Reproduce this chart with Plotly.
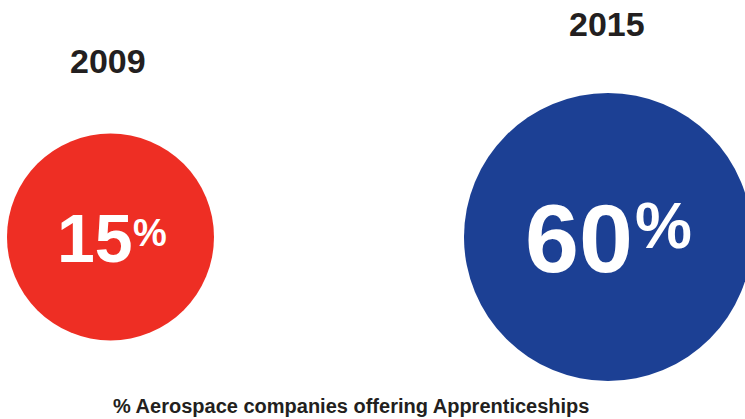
import plotly.graph_objects as go

# ---- data ----
years = ["2009", "2015"]
percent_values = [15, 60]
caption = "% Aerospace companies offering Apprenticeships"

# ---- styles ----
circle_colors = ["#EE2E24", "#1C4094"]
circle_diameters = [207, 288]
number_sizes = [68, 97]
pct_sizes = [38, 64]
text_dark = "#231F20"
FONT = "Liberation Sans, Arial, sans-serif"

fig = go.Figure()
fig.add_trace(go.Scatter(
    x=years, y=[0, 0], mode="markers",
    marker=dict(size=circle_diameters, color=circle_colors, line=dict(width=0), opacity=1),
    hoverinfo="skip", showlegend=False, cliponaxis=False,
))

# per-circle offsets (px) for number, % sign and year label
num_dx = [-15, -29]
num_dy = [-1, -1]
pct_dx = [40, 56]
pct_dy = [4, 11]
year_dx = [-2, -1]
year_dy = [176, 213]

for i, (yr, v) in enumerate(zip(years, percent_values)):
    # category axis: annotations use the category index
    fig.add_annotation(x=i, y=0, text=f"<b>{v}</b>", showarrow=False,
                       xshift=num_dx[i], yshift=num_dy[i], xanchor="center", yanchor="middle",
                       font=dict(family=FONT, size=number_sizes[i], color="white"))
    fig.add_annotation(x=i, y=0, text="<b>%</b>", showarrow=False,
                       xshift=pct_dx[i], yshift=pct_dy[i], xanchor="center", yanchor="middle",
                       font=dict(family=FONT, size=pct_sizes[i], color="white"))
    fig.add_annotation(x=i, y=0, text=f"<b>{yr}</b>", showarrow=False,
                       xshift=year_dx[i], yshift=year_dy[i], xanchor="center", yanchor="middle",
                       font=dict(family=FONT, size=34, color=text_dark))

fig.add_annotation(x=351 / 745, y=1 - 406 / 419, xref="paper", yref="paper",
                   text=f"<b>{caption}</b>", showarrow=False, xanchor="center", yanchor="middle",
                   font=dict(family=FONT, size=20, color=text_dark))

fig.update_layout(
    width=745, height=419, autosize=False,
    margin=dict(l=0, r=0, t=0, b=0),
    paper_bgcolor="white", plot_bgcolor="white",
    xaxis=dict(type="category", range=[-0.2221, 1.2754], visible=False, fixedrange=True),
    yaxis=dict(range=[-182, 237], visible=False, fixedrange=True),
)

fig.write_html("out.html", config={"displayModeBar": False},
               post_script="document.body.style.margin='0';document.documentElement.style.overflow='hidden';document.body.style.overflow='hidden';")
